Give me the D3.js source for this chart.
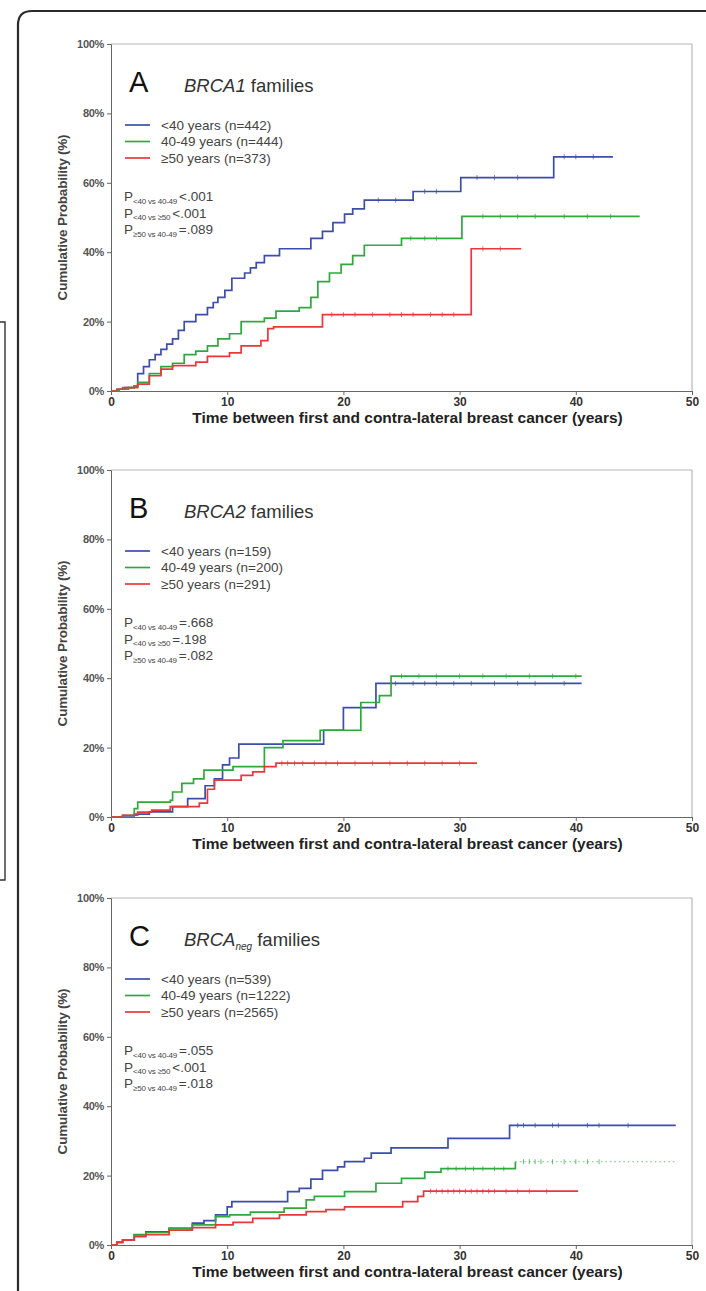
<!DOCTYPE html>
<html><head><meta charset="utf-8">
<script src="https://cdn.jsdelivr.net/npm/d3@7"></script>
<style>
html,body{margin:0;padding:0;background:#fff;}
svg{display:block;}
text{font-family:"Liberation Sans",Arial,sans-serif;}
</style></head>
<body>
<svg id="chart" width="706" height="1291"></svg>
<script>
// ---------- data ----------
const xTicks = [0, 10, 20, 30, 40, 50];
const yTicks = [0, 20, 40, 60, 80, 100];
const groupLabels = ["<40 years", "40-49 years", "\u226550 years"];
const panelLetters = ["A", "B", "C"];
const panelGenes = ["BRCA1", "BRCA2", "BRCA"];
const panelGeneSubs = ["", "", "neg"];
const nA = [442, 444, 373];
const nB = [159, 200, 291];
const nC = [539, 1222, 2565];
const pLabelSubs = ["<40 vs 40-49", "<40 vs \u226550", "\u226550 vs 40-49"];
const pA = ["<.001", "<.001", "=.089"];
const pB = ["=.668", "=.198", "=.082"];
const pC = ["=.055", "<.001", "=.018"];

// Panel A
const aBlueT = [0, 0.5, 1.2, 2.0, 2.3, 2.8, 3.3, 3.8, 4.3, 4.8, 5.3, 5.8, 6.3, 7.3, 8.3, 8.8, 9.2, 9.8, 10.4, 11.5, 12.0, 12.5, 13.2, 14.5, 17.2, 18.2, 19.1, 20.1, 20.8, 21.8, 26.0, 30.1, 38.1];
const aBlueP = [0, 0.5, 1, 1.5, 5, 7, 9, 10.5, 12, 13.5, 15, 17.5, 20, 22, 24, 25.5, 27, 29, 32.5, 34, 35.5, 37, 39, 41, 44, 46, 48.5, 51, 52.5, 55, 57.5, 61.5, 67.5];
const aBlueEnd = 43.2;
const aGreenT = [0, 0.7, 1.5, 2.0, 2.3, 3.3, 4.3, 5.3, 6.3, 7.3, 8.3, 9.2, 10.2, 11.2, 13.2, 14.2, 16.2, 17.2, 17.8, 18.8, 19.8, 20.8, 21.8, 25.0, 30.2];
const aGreenP = [0, 0.5, 1, 1.5, 2.5, 5, 7, 8, 10.5, 11.5, 13, 15, 16.5, 20, 21, 23, 24, 27, 31.5, 34, 36.5, 39, 42, 44, 50.3];
const aGreenEnd = 45.5;
const aRedT = [0, 0.5, 1.0, 2.3, 3.3, 4.3, 5.3, 7.3, 8.3, 10.2, 11.2, 12.9, 13.5, 14.0, 18.2, 31.0];
const aRedP = [0, 0.5, 1, 2, 4.4, 6.3, 7.3, 8.3, 10, 11, 13, 14.5, 18, 18.5, 22, 41];
const aRedEnd = 35.3;

// Panel B
const bBlueT = [0, 1.0, 2.0, 3.3, 5.3, 6.6, 8.1, 8.9, 9.6, 10.2, 11.0, 18.3, 20.0, 22.8];
const bBlueP = [0, 0.3, 0.8, 1.5, 3, 5.3, 9, 11, 15, 17, 21, 25, 31.5, 38.5];
const bBlueEnd = 40.5;
const bGreenT = [0, 1.0, 2.0, 2.3, 5.1, 5.3, 6.1, 7.1, 8.0, 10.5, 13.2, 14.8, 18.0, 21.5, 23.1, 24.1];
const bGreenP = [0, 0.5, 2.4, 4.3, 4.8, 7.2, 9.7, 11, 13.5, 14.5, 20, 22, 25, 33, 35, 40.6];
const bGreenEnd = 40.5;
const bRedT = [0, 1.0, 2.3, 3.5, 5.1, 7.6, 8.3, 8.9, 11.2, 12.2, 13.2, 14.2];
const bRedP = [0, 0.5, 1.4, 2, 3, 4, 8, 10.6, 12, 13, 14.5, 15.5];
const bRedEnd = 31.5;

// Panel C
const cBlueT = [0, 0.5, 1, 2, 3, 5, 7, 8, 9, 10, 10.4, 15.2, 16.2, 17.2, 18.2, 19.5, 20.1, 21.8, 22.4, 24.1, 29.0, 34.3];
const cBlueP = [0, 0.8, 1.5, 3, 3.8, 4.8, 6.3, 7, 8.7, 11, 12.5, 15.4, 16.3, 19, 21.5, 22.5, 24, 25, 26.5, 28, 30.7, 34.5];
const cBlueEnd = 48.6;
const cGreenT = [0, 0.5, 1, 2, 3, 5, 7, 9, 10.2, 12, 14.9, 16.8, 17.5, 20.1, 22.8, 25, 27, 28.4, 34.8];
const cGreenP = [0, 0.8, 1.5, 2.9, 3.6, 4.8, 5.8, 8.2, 8.7, 9.5, 10.6, 13, 14, 15.4, 17.8, 19.2, 21, 22, 24];
const cGreenEnd = 48.6;
const cRedT = [0, 0.5, 1, 2, 3, 5, 7, 9, 10.5, 12.2, 14.5, 16.8, 18.5, 20.1, 25.1, 26.4, 26.9];
const cRedP = [0, 0.7, 1.4, 2.4, 3, 4.3, 5, 5.8, 6.5, 7.7, 8.7, 9.6, 10.2, 11, 12.5, 14, 15.5];
const cRedEnd = 40.2;

// censoring marks (times)
const aCens = [[23, 24.5, 27, 28, 31.5, 33, 35, 39, 40, 41.5], [25.8, 27, 28, 32, 33.5, 35, 36.5, 39, 41, 43], [19, 20, 21, 22.5, 24, 25, 26, 27.5, 28.5, 29.5, 32, 33.5]];
const bCens = [[24.5, 26, 27, 28, 29.5, 31, 33, 35, 36.5, 39], [25, 26.5, 28, 30, 32, 34, 36, 38, 40], [14.7, 15.2, 15.8, 16.5, 17.5, 18.5, 19.5, 21, 22.5, 24, 25.5, 27, 28.5, 30]];
const cCens = [[35, 35.5, 36.5, 38, 38.5, 41, 42, 44.5], [29, 29.7, 30.5, 31.2, 32, 33, 33.8, 35.5, 36, 36.5, 37, 38, 39, 40, 41, 42], [27.5, 28, 28.5, 29, 29.5, 30, 30.5, 31, 31.5, 32, 32.5, 33, 34, 35, 36, 37.5]];

const panelTops = [44, 470, 898];
const seriesColors = ["#3c4daa", "#2fa83c", "#e8383a"];

// ---------- build ----------
const panels = [
  {series: [[aBlueT, aBlueP, aBlueEnd], [aGreenT, aGreenP, aGreenEnd], [aRedT, aRedP, aRedEnd]], n: nA, p: pA, cens: aCens},
  {series: [[bBlueT, bBlueP, bBlueEnd], [bGreenT, bGreenP, bGreenEnd], [bRedT, bRedP, bRedEnd]], n: nB, p: pB, cens: bCens},
  {series: [[cBlueT, cBlueP, cBlueEnd], [cGreenT, cGreenP, cGreenEnd], [cRedT, cRedP, cRedEnd]], n: nC, p: pC, cens: cCens}
];

const svg = d3.select("#chart");
svg.append("rect").attr("width", 706).attr("height", 1291).attr("fill", "#fff");

// outer frame
svg.append("path").attr("d", "M18,1300 L18,25 Q18,11 32,11 L706,11")
  .attr("fill", "none").attr("stroke", "#2b2b2b").attr("stroke-width", 2.2);
// left-side box edge
svg.append("path").attr("d", "M0,322 L5,322 L5,880 L0,880")
  .attr("fill", "none").attr("stroke", "#333").attr("stroke-width", 1.4);

const H = 347;
const x = d3.scaleLinear().domain([0, 50]).range([111, 692]);

panels.forEach((pd, pi) => {
  const top = panelTops[pi];
  const y = d3.scaleLinear().domain([0, 100]).range([top + H, top]);
  const g = svg.append("g");

  // frame (top/right light)
  g.append("line").attr("x1", x(0)).attr("x2", x(50)).attr("y1", y(100)).attr("y2", y(100)).attr("stroke", "#b8b8b8").attr("stroke-width", 1.2);
  g.append("line").attr("x1", x(50)).attr("x2", x(50)).attr("y1", y(100)).attr("y2", y(0)).attr("stroke", "#b8b8b8").attr("stroke-width", 1.2);

  // axes
  const ya = g.append("g").attr("transform", `translate(${x(0)},0)`)
    .call(d3.axisLeft(y).tickValues(yTicks).tickSize(4).tickPadding(3).tickFormat(d => d + "%"));
  ya.select(".domain").attr("stroke", "#666");
  ya.selectAll(".tick line").attr("stroke", "#666");
  ya.selectAll("text").attr("font-size", 11).attr("font-weight", "bold").attr("fill", "#555")
    .attr("letter-spacing", -0.3);

  const xa = g.append("g").attr("transform", `translate(0,${y(0)})`)
    .call(d3.axisBottom(x).tickValues(xTicks).tickSize(4).tickPadding(2));
  xa.select(".domain").attr("stroke", "#666");
  xa.selectAll(".tick line").attr("stroke", "#666");
  xa.selectAll("text").attr("font-size", 12).attr("font-weight", "bold").attr("fill", "#333");

  // axis titles
  g.append("text").attr("x", (x(0) + x(50)) / 2 + 6).attr("y", top + H + 32)
    .attr("text-anchor", "middle").attr("font-size", 15.5).attr("font-weight", "bold").attr("fill", "#222")
    .text("Time between first and contra-lateral breast cancer (years)");
  g.append("text").attr("transform", `translate(67,${top + H / 2}) rotate(-90)`)
    .attr("text-anchor", "middle").attr("font-size", 13.5).attr("font-weight", "bold").attr("fill", "#444")
    .attr("letter-spacing", -0.2)
    .text("Cumulative Probability (%)");

  // curves
  const line = d3.line().x(d => x(d[0])).y(d => y(d[1])).curve(d3.curveStepAfter);
  pd.series.forEach((s, si) => {
    const [T, P, end] = s;
    const pts = T.map((t, i) => [t, P[i]]);
    const lastT = T[T.length - 1], lastP = P[P.length - 1];
    const dottedTail = (pi === 2 && si === 1);
    if (dottedTail) {
      g.append("path").datum(pts.concat([[lastT, lastP]])).attr("d", line)
        .attr("fill", "none").attr("stroke", seriesColors[si]).attr("stroke-width", 1.7);
      g.append("path").datum([[lastT, lastP], [end, lastP]]).attr("d", line)
        .attr("fill", "none").attr("stroke", seriesColors[si]).attr("stroke-width", 1)
        .attr("stroke-dasharray", "1.5,3").attr("opacity", 0.7);
    } else {
      g.append("path").datum(pts.concat([[end, lastP]])).attr("d", line)
        .attr("fill", "none").attr("stroke", seriesColors[si]).attr("stroke-width", 1.7);
    }
    // censor ticks
    const stepVal = t => { let v = 0; for (let i = 0; i < T.length; i++) if (T[i] <= t) v = P[i]; return v; };
    g.selectAll(null).data(pd.cens[si]).enter().append("line")
      .attr("x1", d => x(d)).attr("x2", d => x(d))
      .attr("y1", d => y(stepVal(d)) - 2.5).attr("y2", d => y(stepVal(d)) + 2.5)
      .attr("stroke", seriesColors[si]).attr("stroke-width", 0.9).attr("opacity", 0.8);
  });

  // panel letter + title
  g.append("text").attr("x", 129).attr("y", top + 48).attr("font-size", 29).attr("fill", "#111").text(panelLetters[pi]);
  const tt = g.append("text").attr("x", 184).attr("y", top + 48).attr("font-size", 18.5).attr("fill", "#333");
  tt.append("tspan").attr("font-style", "italic").text(panelGenes[pi]);
  if (panelGeneSubs[pi]) tt.append("tspan").attr("font-style", "italic").attr("font-size", 10).attr("dy", 4).text(panelGeneSubs[pi]);
  tt.append("tspan").attr("dy", panelGeneSubs[pi] ? -4 : 0).text(" families");

  // legend
  groupLabels.forEach((lab, i) => {
    const cy = top + 81 + i * 16.5;
    g.append("line").attr("x1", 125).attr("x2", 150).attr("y1", cy).attr("y2", cy)
      .attr("stroke", seriesColors[i]).attr("stroke-width", 1.7);
    g.append("text").attr("x", 161).attr("y", cy + 4.8).attr("font-size", 13.5).attr("fill", "#444")
      .text(`${lab} (n=${pd.n[i]})`);
  });

  // p values
  pLabelSubs.forEach((sub, i) => {
    const by = top + 157 + i * 16.5;
    const t = g.append("text").attr("x", 124).attr("y", by).attr("font-size", 13.5).attr("fill", "#444");
    t.append("tspan").text("P");
    t.append("tspan").attr("font-size", 8).attr("dy", 2.5).attr("letter-spacing", -0.2).text(sub);
    t.append("tspan").attr("dy", -2.5).attr("dx", 2).text(pd.p[i]);
  });
});
</script>
</body></html>
